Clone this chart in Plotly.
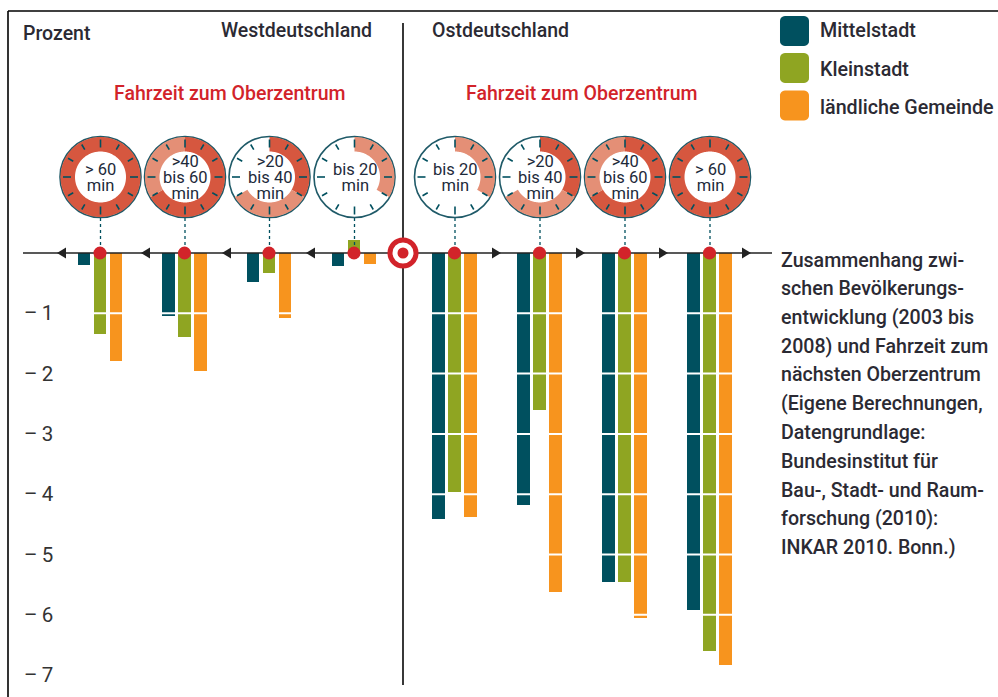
import math
import plotly.graph_objects as go

W, H = 998, 697
FONT = "Roboto"
TEXT = "#2b2a33"
TEAL = "#00505f"
OLIVE = "#8fa522"
ORANGE = "#f7941e"
DARK_RED = "#d6573f"
LIGHT_RED = "#e48f76"
RED = "#d2232a"

series_names = ["Mittelstadt", "Kleinstadt", "ländliche Gemeinde"]
mittelstadt = [-0.20, -1.04, -0.48, -0.22, -4.41, -4.18, -5.45, -5.92]
kleinstadt = [-1.34, -1.39, -0.33, 0.22, -3.97, -2.60, -5.45, -6.60]
laendlich = [-1.79, -1.95, -1.07, -0.18, -4.37, -5.62, -6.05, -6.83]
group_x = [100, 184.5, 269, 354, 454.5, 539.5, 624.5, 709.5]
clock_labels = [["> 60", "min"], [">40", "bis 60", "min"], [">20", "bis 40", "min"], ["bis 20", "min"],
                ["bis 20", "min"], [">20", "bis 40", "min"], [">40", "bis 60", "min"], ["> 60", "min"]]
clock_dark_min = [60, 40, 20, 0, 0, 20, 40, 60]
clock_light_min = [0, 20, 20, 20, 20, 20, 20, 0]
y_ticks = [-1, -2, -3, -4, -5, -6, -7]
y_tick_text = ["–\u20091", "–\u20092", "–\u20093", "–\u20094", "–\u20095", "–\u20096", "–\u20097"]
note_lines = ["Zusammenhang zwi-", "schen Bevölkerungs-", "entwicklung (2003 bis", "2008) und Fahrzeit zum",
              "nächsten Oberzentrum", "(Eigene Berechnungen,", "Datengrundlage:", "Bundesinstitut für",
              "Bau-, Stadt- und Raum-", "forschung (2010):", "INKAR 2010. Bonn.)"]

ZERO_PX = 253.0
PX_PER_UNIT = 60.3
BAR_W = 12.6
OFFSETS = [-16, 0, 16]
colors = [TEAL, OLIVE, ORANGE]


def fx(px):
    return px / W


def fy(py):
    return 1 - py / H


fig = go.Figure()
for name, vals, off, col in zip(series_names, [mittelstadt, kleinstadt, laendlich], OFFSETS, colors):
    fig.add_trace(go.Bar(name=name, x=[g + off for g in group_x], y=vals, width=BAR_W,
                         marker=dict(color=col, line=dict(width=0)), showlegend=False))

shapes = []
annots = []


def line(x0, y0, x1, y1, color="#111111", width=1.5, dash=None):
    shapes.append(dict(type="line", xref="paper", yref="paper", x0=fx(x0), y0=fy(y0), x1=fx(x1), y1=fy(y1),
                       line=dict(color=color, width=width, dash=dash), layer="above"))


def path(d, fill, lw=0, lc="rgba(0,0,0,0)"):
    shapes.append(dict(type="path", xref="paper", yref="paper", path=d, fillcolor=fill,
                       line=dict(color=lc, width=lw), layer="above"))


def circle(cx, cy, r, fill, lw=0, lc="rgba(0,0,0,0)"):
    shapes.append(dict(type="circle", xref="paper", yref="paper", x0=fx(cx - r), x1=fx(cx + r),
                       y0=fy(cy + r), y1=fy(cy - r), fillcolor=fill, line=dict(color=lc, width=lw), layer="above"))


def text(x, y, s, size=18, color=TEXT, anchor="left", weight=500, family=FONT):
    annots.append(dict(xref="paper", yref="paper", x=fx(x), y=fy(y), text=s, showarrow=False, xanchor=anchor,
                       yanchor="middle", borderpad=0, borderwidth=0,
                       font=dict(family=family, size=size, color=color, weight=weight)))


def polar(cx, cy, r, minute):
    a = minute / 60 * 2 * math.pi
    return cx + r * math.sin(a), cy - r * math.cos(a)


def sector(cx, cy, r0, r1, m0, m1, fill):
    n = max(2, int(abs(m1 - m0) * 3))
    ms = [m0 + (m1 - m0) * i / n for i in range(n + 1)]
    pts = [polar(cx, cy, r1, m) for m in ms] + [polar(cx, cy, r0, m) for m in reversed(ms)]
    d = "M " + " L ".join(f"{fx(a):.5f},{fy(b):.5f}" for a, b in pts) + " Z"
    path(d, fill)


def rrect(x0, y0, x1, y1, r, fill):
    pts = []
    for cx, cy, s in [(x1 - r, y0 + r, 0), (x1 - r, y1 - r, 90), (x0 + r, y1 - r, 180), (x0 + r, y0 + r, 270)]:
        for t in range(0, 91, 15):
            a = math.radians(s + t)
            pts.append((cx + r * math.sin(a), cy - r * math.cos(a)))
    path("M " + " L ".join(f"{fx(a):.5f},{fy(b):.5f}" for a, b in pts) + " Z", fill)


# frame
line(8, 11, 998, 11, "#000000", 1.6)
line(8, 11, 8, 697, "#000000", 1.6)

# white scale lines crossing the bars
for t in y_ticks:
    yy = ZERO_PX - t * PX_PER_UNIT
    line(60, yy, 760, yy, "#ffffff", 2)

# axis line and divider
line(403, 23, 403, 685, "#222222", 1.8)
line(23, ZERO_PX, 772, ZERO_PX, "#222222", 1.6)

for tip in [57, 141, 222, 306]:
    path(f"M {fx(tip)},{fy(ZERO_PX)} L {fx(tip + 9)},{fy(ZERO_PX - 5.5)} L {fx(tip + 9)},{fy(ZERO_PX + 5.5)} Z", "#222222")
for tip in [501, 585, 668, 751]:
    path(f"M {fx(tip)},{fy(ZERO_PX)} L {fx(tip - 9)},{fy(ZERO_PX - 5.5)} L {fx(tip - 9)},{fy(ZERO_PX + 5.5)} Z", "#222222")

# clocks
CY = 177
for g, labels, dark, light in zip(group_x, clock_labels, clock_dark_min, clock_light_min):
    cx = g + 0.5
    line(cx, 218, cx, 246, TEAL, 1.3, "dot")
    circle(cx, CY, 40.5, "#ffffff", 1.6, "#1f5a68")
    if dark:
        sector(cx, CY, 25.5, 40, 0, dark, DARK_RED)
    if light:
        sector(cx, CY, 25.5, 40, dark, dark + light, LIGHT_RED)
    for m in range(0, 60, 5):
        major = m % 15 == 0
        x0, y0 = polar(cx, CY, 37.5, m)
        x1, y1 = polar(cx, CY, 29.5 if major else 31.5, m)
        line(x0, y0, x1, y1, TEAL, 1.6)
    label = "<br>".join(f'<span style="font-size:16.5px">{s}</span>' for s in labels)
    text(cx, CY + 0.7, label, size=12.4, anchor="center", color="#1d2a3a", weight=400)
    circle(g, ZERO_PX, 6.5, RED)

# target
circle(403, ZERO_PX, 15.5, RED)
circle(403, ZERO_PX, 10.5, "#ffffff")
circle(403, ZERO_PX, 5.5, RED)

# headings
HS = 19.5
text(23, 33, "Prozent", HS)
text(221, 31, "Westdeutschland", HS)
text(432, 31, "Ostdeutschland", HS)
text(114, 93, "Fahrzeit zum Oberzentrum", HS, RED)
text(466, 93, "Fahrzeit zum Oberzentrum", HS, RED)

# legend
for (y0, y1), col, name, ty in zip([(16, 46), (53, 83), (90.5, 120.5)], colors, series_names, [31, 69, 107]):
    rrect(780, y0, 809, y1, 5, col)
    text(820, ty, name, 19.7)

# note
for i, s in enumerate(note_lines):
    text(781, 260 + i * 28.75, s, 19.6)

fig.update_layout(
    width=W, height=H, margin=dict(l=0, r=0, t=0, b=0, pad=0), autosize=False,
    paper_bgcolor="#ffffff", plot_bgcolor="rgba(0,0,0,0)", barmode="overlay", bargap=0,
    xaxis=dict(range=[0, W], visible=False, fixedrange=True),
    yaxis=dict(range=[(ZERO_PX - H) / PX_PER_UNIT, ZERO_PX / PX_PER_UNIT], tickvals=y_ticks, ticktext=y_tick_text,
               ticklabelposition="inside", ticklabelstandoff=21, ticks="", showgrid=False, zeroline=False,
               showline=False, tickfont=dict(family=FONT, size=20.5, color="#333333"), fixedrange=True),
    shapes=shapes, annotations=annots, showlegend=False,
)
fig.write_html("out.html", config={"displayModeBar": False},
               post_script="document.body.style.margin='0';document.body.style.overflow='hidden';")
